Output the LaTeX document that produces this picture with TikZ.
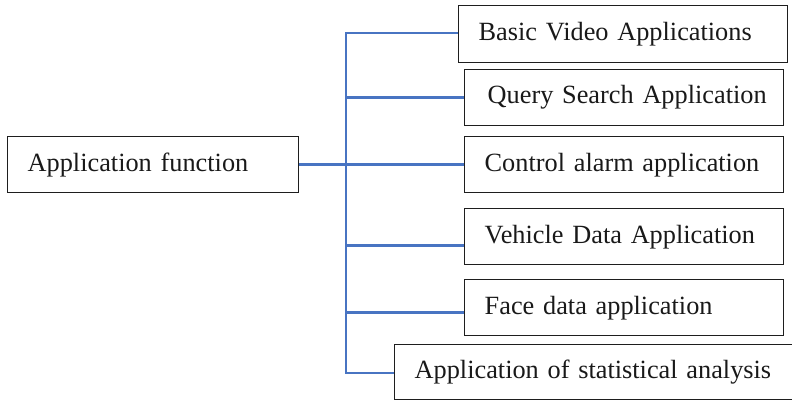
\documentclass[tikz,border=0pt]{standalone}
\usepackage{fontspec}
\setmainfont{Liberation Serif}
\hyphenpenalty=10000
\definecolor{linkblue}{RGB}{72,116,194}
\definecolor{boxline}{RGB}{30,30,30}
\begin{document}
\begin{tikzpicture}[x=1pt,y=-1pt,
  appbox/.style={draw=boxline, line width=1.4pt, rectangle, anchor=north west,
    inner xsep=20pt, inner ysep=0pt, align=left,
    font=\fontsize{26.3}{30}\selectfont, text=black!90},
  trunk/.style={draw=linkblue, line width=2pt},
  branch/.style={draw=linkblue, line width=3pt}]
\useasboundingbox (0,0) rectangle (792,401);

% root box
\node[appbox, text width=251pt, minimum height=56pt] (root) at (7,136) {Application function};

% child boxes
\node[appbox, text width=289pt, minimum height=57pt] (b1) at (458,5) {Basic Video Applications};
\node[appbox, inner xsep=0pt, text width=319pt, minimum height=56pt] (b2) at (464,69) {\hspace*{23pt}Query Search Application};
\node[appbox, text width=279pt, minimum height=56pt] (b3) at (464,136) {Control alarm application};
\node[appbox, text width=279pt, minimum height=56pt] (b4) at (464,208) {Vehicle Data Application};
\node[appbox, text width=366pt, minimum height=55pt] (b6) at (394,344) {Application of statistical analysis};
\node[appbox, text width=279pt, minimum height=56pt] (b5) at (464,279) {Face data application};

% trunk junction points
\coordinate (t1) at (346,33);
\coordinate (t2) at (346,98);
\coordinate (t4) at (346,245);
\coordinate (t5) at (346,312);
\coordinate (t6) at (346,373);

% connectors
\draw[trunk] (t1 -| b1.west) -- (t1) -- (t6) -- (t6 -| b6.west);
\draw[branch] (t2) -- (t2 -| b2.west);
\draw[branch] (root.east) -- (b3.west);
\draw[branch] (t4) -- (t4 -| b4.west);
\draw[branch] (t5) -- (t5 -| b5.west);
\end{tikzpicture}
\end{document}
